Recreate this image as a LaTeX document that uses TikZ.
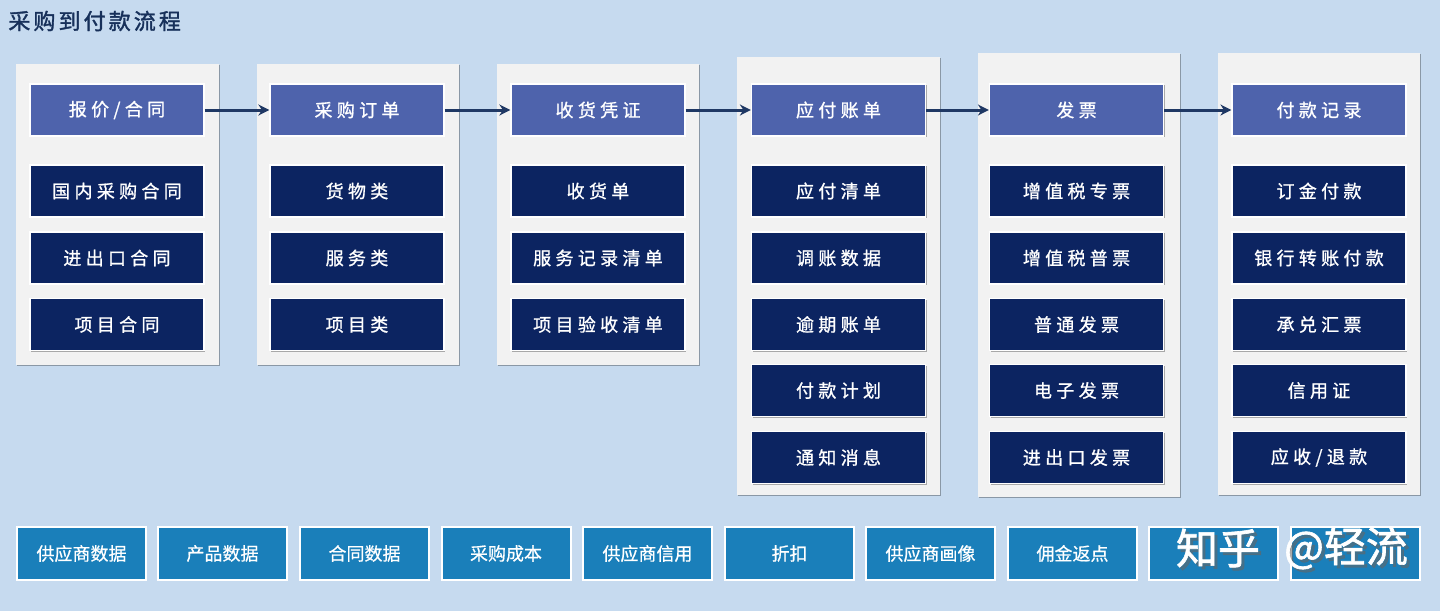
\documentclass[tikz,border=0pt]{standalone}
\usepackage{fontspec}
\usetikzlibrary{shadows,arrows.meta}
\newfontfamily\cjk{Noto Sans CJK SC}
\newfontfamily\cjkm[FakeBold=0.6]{Noto Sans CJK SC}
\newfontfamily\cjksp[LetterSpace=24,FakeBold=1]{Noto Sans CJK SC}
\newfontfamily\cjktt[LetterSpace=14,FakeBold=1.5]{Noto Sans CJK SC}
\newfontfamily\cjkwm[FakeBold=1.5]{Noto Sans CJK SC}
\definecolor{bgc}{HTML}{C6DAEF}
\definecolor{panelc}{HTML}{F2F2F2}
\definecolor{headc}{HTML}{4E63AC}
\definecolor{itemc}{HTML}{0C2461}
\definecolor{basec}{HTML}{1A7FBA}
\definecolor{arrowc}{HTML}{1F3864}
\definecolor{titlec}{HTML}{17305A}
\tikzset{
  sh/.style={drop shadow={shadow xshift=0.7pt,shadow yshift=-0.7pt,opacity=0.3,fill=black}},
  panel/.style={fill=panelc,draw=none,sh},
  head/.style={fill=headc,draw=white,line width=0.6pt,minimum width=87pt,minimum height=26pt,inner sep=0pt,text=white,font=\cjksp\fontsize{9}{9}\selectfont,sh},
  item/.style={head,fill=itemc},
  base/.style={fill=basec,draw=white,line width=1pt,minimum width=64.5pt,minimum height=26.5pt,inner sep=0pt,text=white,font=\cjkm\fontsize{9}{9}\selectfont,sh},
  flow/.style={draw=arrowc,line width=1.5pt,-{Stealth[length=5.5pt,width=5.5pt]}},
  wm/.style={text=white,font=\cjkwm\fontsize{21}{21}\selectfont,inner sep=0pt},
  wms/.style={text=black!60,opacity=0.55,font=\cjkwm\fontsize{21}{21}\selectfont,inner sep=0pt},
}
\begin{document}
\begin{tikzpicture}[x=0.5pt,y=-0.5pt]
\useasboundingbox[fill=bgc] (0,0) rectangle (1440,611);
\node[anchor=west,text=titlec,font=\cjktt\fontsize{11}{11}\selectfont,inner sep=0pt] (title) at (8,21) {采购到付款流程};
% panels
\path[panel] (16,64) rectangle (219,365);
\path[panel] (257,64) rectangle (459,365);
\path[panel] (497,64) rectangle (699,365);
\path[panel] (737,57) rectangle (940,495);
\path[panel] (978,53) rectangle (1180,497);
\path[panel] (1218,53) rectangle (1420,495);
% headers
\node[head] (h1) at (117,110) {报价/合同};
\node[head] (h2) at (357,110) {采购订单};
\node[head] (h3) at (598,110) {收货凭证};
\node[head] (h4) at (838.5,110) {应付账单};
\node[head] (h5) at (1076.5,110) {发票};
\node[head] (h6) at (1319,110) {付款记录};
\draw[flow] (h1) -- (h2);
\draw[flow] (h2) -- (h3);
\draw[flow] (h3) -- (h4);
\draw[flow] (h4) -- (h5);
\draw[flow] (h5) -- (h6);
% column 1
\node[item] (a1) at (117,191) {国内采购合同};
\node[item] (a2) at (117,258) {进出口合同};
\node[item] (a3) at (117,324.5) {项目合同};
% column 2
\node[item] (b1) at (357,191) {货物类};
\node[item] (b2) at (357,258) {服务类};
\node[item] (b3) at (357,324.5) {项目类};
% column 3
\node[item] (c1) at (598,191) {收货单};
\node[item] (c2) at (598,258) {服务记录清单};
\node[item] (c3) at (598,324.5) {项目验收清单};
% column 4
\node[item] (d1) at (838.5,191) {应付清单};
\node[item] (d2) at (838.5,258) {调账数据};
\node[item] (d3) at (838.5,324.5) {逾期账单};
\node[item] (d4) at (838.5,390.5) {付款计划};
\node[item] (d5) at (838.5,457.5) {通知消息};
% column 5
\node[item] (e1) at (1076.5,191) {增值税专票};
\node[item] (e2) at (1076.5,258) {增值税普票};
\node[item] (e3) at (1076.5,324.5) {普通发票};
\node[item] (e4) at (1076.5,390.5) {电子发票};
\node[item] (e5) at (1076.5,457.5) {进出口发票};
% column 6
\node[item] (f1) at (1319,191) {订金付款};
\node[item] (f2) at (1319,258) {银行转账付款};
\node[item] (f3) at (1319,324.5) {承兑汇票};
\node[item] (f4) at (1319,390.5) {信用证};
\node[item] (f5) at (1319,457.5) {应收/退款};
% base row
\node[base] (g1) at (81.5,553.5) {供应商数据};
\node[base] (g2) at (222.5,553.5) {产品数据};
\node[base] (g3) at (364.5,553.5) {合同数据};
\node[base] (g4) at (506,553.5) {采购成本};
\node[base] (g5) at (647.5,553.5) {供应商信用};
\node[base] (g6) at (789.5,553.5) {折扣};
\node[base] (g7) at (930.5,553.5) {供应商画像};
\node[base] (g8) at (1072.5,553.5) {佣金返点};
\node[base] (g9) at (1213.5,553.5) {};
\node[base] (g10) at (1355,553.5) {};
% watermark
\node[wms] (w1s) at (1221,551) {知乎};
\node[wms] (w2s) at (1349,551) {@轻流};
\node[wm] (w1) at (1218,548) {知乎};
\node[wm] (w2) at (1346,548) {@轻流};
\end{tikzpicture}
\end{document}
